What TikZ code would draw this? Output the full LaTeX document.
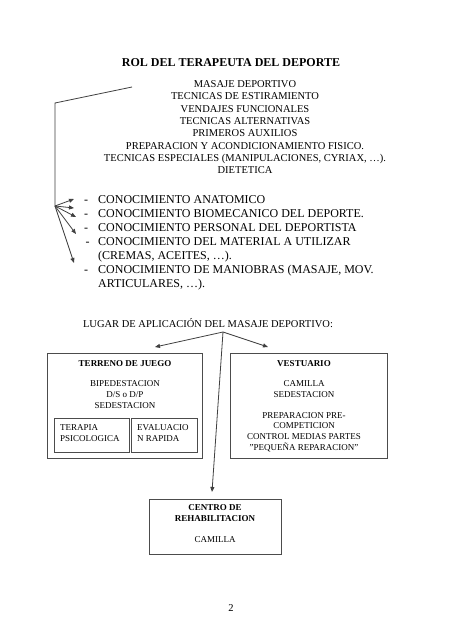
\documentclass[tikz,border=0pt]{standalone}
\usepackage{fontspec}
\setmainfont{Liberation Serif}
\usetikzlibrary{arrows.meta}
\tikzset{
  ln/.style={draw=black!75, line width=0.8pt},
  arr/.style={ln, -{Triangle[length=5pt,width=4pt]}},
  txt/.style={inner sep=0pt, align=center, anchor=base},
  boxtxt/.style={inner sep=0pt, align=center, anchor=base, font=\fontsize{9}{10.8}\selectfont},
  frame/.style={draw=black!70, line width=0.8pt}
}
\begin{document}
\begin{tikzpicture}[x=1pt,y=-1pt]
\useasboundingbox[fill=white] (0,0) rectangle (452,640);

% title
\node[txt, font=\bfseries\fontsize{12}{14}\selectfont] (title) at (231,66) {ROL DEL TERAPEUTA DEL DEPORTE};

% centred list (base anchor = baseline of last line)
\node[txt, font=\fontsize{10.5}{12.3}\selectfont] (roles) at (245,173.6)
 {MASAJE DEPORTIVO\\TECNICAS DE ESTIRAMIENTO\\VENDAJES FUNCIONALES\\TECNICAS ALTERNATIVAS\\PRIMEROS AUXILIOS\\PREPARACION Y ACONDICIONAMIENTO FISICO.\\TECNICAS ESPECIALES (MANIPULACIONES, CYRIAX, \dots).\\DIETETICA};

% bracket
\coordinate (bstart) at (132,87);
\coordinate (bcorner) at (55,103);
\coordinate (hub) at (55,206);
\draw[ln] (bstart) -- (bcorner) -- (hub);

% dash list
\node[inner sep=0pt, anchor=north west, font=\fontsize{12}{14}\selectfont, align=left] (know) at (84,193)
 {\begin{tabular}{@{}l@{\hspace{8.5pt}}l@{}}
 - & CONOCIMIENTO ANATOMICO\\
 - & CONOCIMIENTO BIOMECANICO DEL DEPORTE.\\
 - & CONOCIMIENTO PERSONAL DEL DEPORTISTA\\
 \hspace{1.5pt}- & CONOCIMIENTO DEL MATERIAL A UTILIZAR\\
   & (CREMAS, ACEITES, \dots).\\
 - & CONOCIMIENTO DE MANIOBRAS (MASAJE, MOV.\\
   & ARTICULARES, \dots).
 \end{tabular}};

\coordinate (k1) at (74,199);
\coordinate (k2) at (74,208);
\coordinate (k3) at (76,217);
\coordinate (k4) at (76,234);
\coordinate (k5) at (74,263);
\foreach \k in {k1,k2,k3,k4,k5} \draw[arr] (hub) -- (\k);

% places
\node[txt, font=\fontsize{10.5}{12.3}\selectfont] (lugar) at (208,327) {LUGAR DE APLICACIÓN DEL MASAJE DEPORTIVO:};

\coordinate (apex) at (223,332);
\coordinate (tipL) at (155,347);
\coordinate (tipR) at (268,347);
\coordinate (tipC) at (212,492);

% boxes
\node[frame, minimum width=155pt, minimum height=105pt, inner sep=0pt] (terreno) at (124.5,405.5) {};
\node[frame, minimum width=157pt, minimum height=105pt, inner sep=0pt] (vestuario) at (308.5,405.5) {};
\node[frame, minimum width=75pt, minimum height=34pt, inner sep=0pt] (terapiabox) at (91.5,435) {};
\node[frame, minimum width=66pt, minimum height=34pt, inner sep=0pt] (evalbox) at (164,435) {};
\node[frame, minimum width=132pt, minimum height=55pt, inner sep=0pt] (rehab) at (215,526.5) {};

\draw[arr] (apex) -- (tipL);
\draw[arr] (apex) -- (tipR);
\draw[arr] (apex) -- (tipC);

% box texts (base anchor = baseline of last line)
\node[boxtxt, font=\bfseries\fontsize{9}{10.8}\selectfont] (tjhead) at (125,366) {TERRENO DE JUEGO};
\node[boxtxt] (tjbody) at (125,408.5) {BIPEDESTACION\\D/S o D/P\\SEDESTACION};
\node[boxtxt, align=left, anchor=base west] (terapia) at (60,441.5) {TERAPIA\\PSICOLOGICA};
\node[boxtxt, align=left, anchor=base west] (evaluacion) at (137,441.5) {EVALUACIO\\N RAPIDA};

\node[boxtxt, font=\bfseries\fontsize{9}{10.8}\selectfont] (vhead) at (304,366) {VESTUARIO};
\node[boxtxt] (vbody) at (304,397.5) {CAMILLA\\SEDESTACION};
\node[boxtxt] (vbody2) at (304,450.5) {PREPARACION PRE-\\COMPETICION\\CONTROL MEDIAS PARTES\\"PEQUEÑA REPARACION"};

\node[boxtxt, font=\bfseries\fontsize{9}{10.8}\selectfont] (rhead) at (215,521.5) {CENTRO DE\\REHABILITACION};
\node[boxtxt] (rbody) at (215,542) {CAMILLA};

\node[txt, font=\fontsize{10.5}{12}\selectfont] (page) at (231,611) {2};
\end{tikzpicture}
\end{document}
